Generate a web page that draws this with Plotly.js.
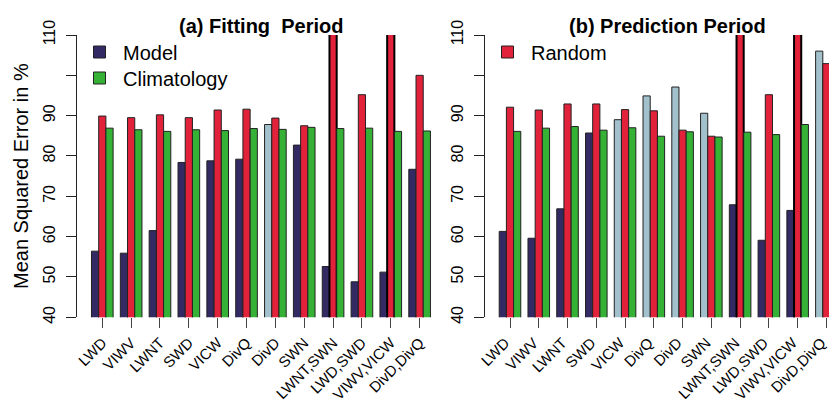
<!DOCTYPE html>
<html>
<head>
<meta charset="utf-8">
<script src="https://cdn.plot.ly/plotly-3.0.1.min.js"></script>
<style>html,body{margin:0;padding:0;background:#fff;}#chart{width:829px;height:404px;}</style>
</head>
<body>
<div id="chart"></div>
<script>
// ---- data ----
const categories = ["LWD","VIWV","LWNT","SWD","VICW","DivQ","DivD","SWN","LWNT,SWN","LWD,SWD","VIWV,VICW","DivD,DivQ"];

const fitModel  = [56.4, 55.9, 61.5, 78.4, 78.8, 79.2, 87.8, 82.7, 52.6, 48.8, 51.2, 76.7];
const fitRandom = [89.9, 89.5, 90.2, 89.5, 91.4, 91.6, 89.4, 87.5, 125.0, 95.2, 125.0, 100.0];
const fitClim   = [86.9, 86.5, 86.1, 86.5, 86.3, 86.8, 86.6, 87.1, 86.8, 86.9, 86.1, 86.2];

const predModel  = [61.3, 59.6, 66.9, 85.7, 89.0, 94.9, 97.1, 90.6, 67.9, 59.1, 66.5, 106.0];
const predRandom = [92.1, 91.4, 92.9, 92.9, 91.5, 91.2, 86.4, 84.9, 125.0, 95.2, 125.0, 102.9];
const predClim   = [86.1, 86.9, 87.3, 86.4, 87.0, 84.9, 86.0, 84.7, 85.9, 85.3, 87.8, 86.0];

const yTickVals = [40, 50, 60, 70, 80, 90, 100, 110];
const yTickText = ["40", "50", "60", "70", "80", "90", "", "110"];

// ---- styles ----
const C_MODEL = "#332a63";
const C_MODEL_WORSE = "#a3c1cc";
const C_RANDOM = "#e2223a";
const C_CLIM = "#35b236";
const OUTLINE = "#222222";
const YMAX = 110;

const W = 829, H = 404;
const px = v => v / W;
const py = v => 1 - v / H;

function modelColors(model, clim) {
  return model.map((v, i) => v > clim[i] ? C_MODEL_WORSE : C_MODEL);
}
function lineWidths(vals) { return vals.map(v => v > YMAX ? 2 : 1); }
function lineColors(vals) { return vals.map(v => v > YMAX ? "#000000" : OUTLINE); }

function bar(name, y, colors, xa, ya, legend, show) {
  return {
    type: "bar", name: name, x: categories, y: y,
    xaxis: xa, yaxis: ya,
    marker: { color: colors, line: { color: lineColors(y), width: lineWidths(y) } },
    showlegend: show, legend: legend, hoverinfo: "x+y+name"
  };
}

const data = [
  bar("Model", fitModel, modelColors(fitModel, fitClim), "x", "y", "legend", true),
  bar("Random", fitRandom, C_RANDOM, "x", "y", "legend3", false),
  bar("Climatology", fitClim, C_CLIM, "x", "y", "legend2", true),
  bar("Model", predModel, modelColors(predModel, predClim), "x2", "y2", "legend", false),
  bar("Random", predRandom, C_RANDOM, "x2", "y2", "legend3", true),
  bar("Climatology", predClim, C_CLIM, "x2", "y2", "legend2", false)
];

const FONT = "Liberation Sans, Arial, sans-serif";

function xAxis(domain, range, anchor, shift) {
  return {
    domain: domain, range: range, anchor: anchor, type: "category",
    showline: false, showgrid: false, zeroline: false,
    ticks: "outside", ticklen: 10, tickwidth: 1, tickcolor: "#444",
    tickangle: -45, ticklabelstandoff: 0, ticklabelshift: shift,
    tickfont: { family: FONT, size: 15, color: "#000" },
    automargin: false, fixedrange: true
  };
}
function yAxis(anchor) {
  return {
    domain: [py(317.3), py(35)], range: [40, 110], anchor: anchor,
    showline: true, linecolor: "#222", linewidth: 1,
    showgrid: false, zeroline: false,
    ticks: "outside", ticklen: 10, tickwidth: 1, tickcolor: "#222",
    tickvals: yTickVals, ticktext: yTickText, tickangle: -90,
    ticklabelstandoff: 5,
    tickfont: { family: FONT, size: 16, color: "#000" },
    automargin: false, fixedrange: true
  };
}

function legendBox(x, yCenter) {
  return {
    x: px(x), y: py(yCenter), xanchor: "left", yanchor: "middle",
    bgcolor: "rgba(0,0,0,0)", borderwidth: 0, itemwidth: 37,
    font: { family: FONT, size: 20, color: "#000" },
    itemclick: false, itemdoubleclick: false
  };
}

const layout = {
  width: W, height: H,
  margin: { l: 0, r: 0, t: 0, b: 0 },
  paper_bgcolor: "#fff", plot_bgcolor: "#fff",
  barmode: "group", bargap: 0.25, bargroupgap: 0,
  font: { family: FONT, color: "#000" },
  xaxis: xAxis([px(77), px(445)], [-0.877, 11.88], "y", 0),
  yaxis: yAxis("x"),
  xaxis2: xAxis([px(485), 1], [-0.869, 11.09], "y2", -5),
  yaxis2: yAxis("x2"),
  legend: legendBox(76, 52),
  legend2: legendBox(76, 78),
  legend3: legendBox(484, 52),
  annotations: [
    { text: "<b>(a) Fitting  Period</b>", xref: "paper", yref: "paper",
      x: px(260.8), y: py(26), xanchor: "center", yanchor: "middle",
      showarrow: false, font: { family: FONT, size: 20, color: "#000" } },
    { text: "<b>(b) Prediction Period</b>", xref: "paper", yref: "paper",
      x: px(667.5), y: py(26), xanchor: "center", yanchor: "middle",
      showarrow: false, font: { family: FONT, size: 20, color: "#000" } },
    { text: "Mean Squared Error in %", xref: "paper", yref: "paper",
      x: px(21), y: py(176), xanchor: "center", yanchor: "middle",
      textangle: -90, showarrow: false,
      font: { family: FONT, size: 20, color: "#000" } }
  ]
};

Plotly.newPlot("chart", data, layout, { staticPlot: true, displayModeBar: false });
</script>
</body>
</html>
